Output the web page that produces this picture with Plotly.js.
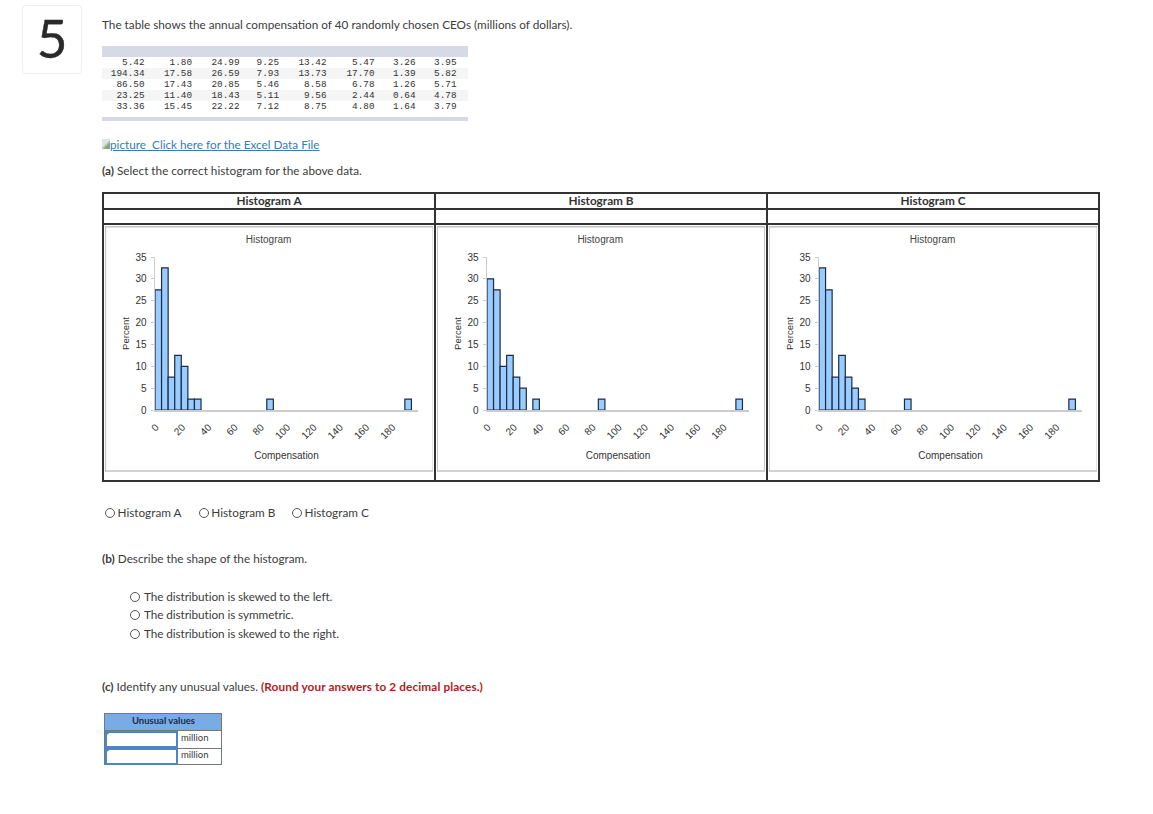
<!DOCTYPE html>
<html><head><meta charset="utf-8">
<script src="https://cdn.plot.ly/plotly-3.0.1.min.js"></script>
<style>
html,body{margin:0;padding:0;background:#fff;width:1153px;height:814px;overflow:hidden}
#page{position:relative;width:1153px;height:814px;font-family:Lato,sans-serif;font-size:11.75px;color:#3c3c3c}
.t{position:absolute;white-space:pre;line-height:16px;transform:translateY(-8px)}
.box{position:absolute;box-sizing:border-box}
.radio{position:absolute;box-sizing:border-box;width:10px;height:10px;border:1.3px solid #555;border-radius:50%;transform:translate(-5px,-5px);background:#fff}
.chart{position:absolute;background:#fff;box-sizing:border-box}
.m{position:absolute;font-family:"Liberation Mono",monospace;font-size:9.35px;line-height:11px;text-align:right;white-space:pre;color:#333;transform:translate(-100%,-5.5px)}
</style></head><body><div id="page"></div>
<script>
// Histogram data: bin lower edges (millions of dollars) and percent of CEOs
var binWidth = 5;
var binsA = [0,5,10,15,20,25,30,85,190];
var percentA = [27.5,32.5,7.5,12.5,10,2.5,2.5,2.5,2.5];
var binsB = [0,5,10,15,20,25,35,85,190];
var percentB = [30,27.5,10,12.5,7.5,5,2.5,2.5,2.5];
var binsC = [0,5,10,15,20,25,30,65,190];
var percentC = [32.5,27.5,7.5,12.5,7.5,5,2.5,2.5,2.5];
var xTicks = [0,20,40,60,80,100,120,140,160,180];
var yTicks = [0,5,10,15,20,25,30,35];
var histogramNames = ["Histogram A","Histogram B","Histogram C"];
var tableRows = [
 ["5.42","1.80","24.99","9.25","13.42","5.47","3.26","3.95"],
 ["194.34","17.58","26.59","7.93","13.73","17.70","1.39","5.82"],
 ["86.50","17.43","20.85","5.46","8.58","6.78","1.26","5.71"],
 ["23.25","11.40","18.43","5.11","9.56","2.44","0.64","4.78"],
 ["33.36","15.45","22.22","7.12","8.75","4.80","1.64","3.79"]
];

var page = document.getElementById('page');
function el(cls, css, html){var d=document.createElement('div');d.className=cls;d.style.cssText=css;if(html!==undefined)d.innerHTML=html;page.appendChild(d);return d;}
function text(x,y,html,css){return el('t','left:'+x+'px;top:'+y+'px;'+(css||''),html);}
function rect(x,y,w,h,css){return el('box','left:'+x+'px;top:'+y+'px;width:'+w+'px;height:'+h+'px;'+(css||''));}
function radio(x,y){return el('radio','left:'+x+'px;top:'+y+'px;');}

// question number
rect(22,5,60,69,'border:1px solid #eeeeee;border-radius:4px');
text(52,38,'5','font-size:53px;line-height:60px;transform:translate(-50%,-30px);color:#2a2a2a;-webkit-text-stroke:0.4px #2a2a2a');

text(102,25,'The table shows the annual compensation of 40 randomly chosen CEOs (millions of dollars).');

// data table
rect(102,46,366,11,'background:#d5dae6');
rect(102,68,366,11,'background:#f5f5f5');
rect(102,90,366,11,'background:#f5f5f5');
rect(102,117,366,4,'background:#d5dae6');
var colEnds=[144.5,192,239.5,279,326.5,374.5,415.5,456.5], rowYs=[62,73,84,95,106];
tableRows.forEach(function(r,i){r.forEach(function(v,j){el('m','left:'+colEnds[j]+'px;top:'+rowYs[i]+'px;',v);});});

// link
rect(102,139,8,10,'background:linear-gradient(135deg,#dfe4ea 0 45%,#7fa86a 70%,#8aa0b8);');
text(110,144.5,'<span style="text-decoration:underline">picture&nbsp;&nbsp;Click here for the Excel Data File</span>','color:#3a78c0');
text(102,171,'<b>(a)</b> Select the correct histogram for the above data.');

// outer table of three histograms
var frame='#333';
rect(102,192,998,290,'border:2px solid '+frame);
rect(102,208,998,2,'background:'+frame);
rect(102,223,998,2,'background:'+frame);
rect(434,192,2,290,'background:'+frame);
rect(766,192,2,290,'background:'+frame);
var nameX=[269,601,933];
histogramNames.forEach(function(n,i){text(nameX[i],200.5,'<b>'+n+'</b>','transform:translate(-50%,-8px);color:#333');});

// histograms
var panels=[
 {id:'a',left:105,width:328,origin:154.6,end:417.7,bins:binsA,pct:percentA},
 {id:'b',left:437,width:328,origin:486.9,end:749.3,bins:binsB,pct:percentB},
 {id:'c',left:769,width:328,origin:818.9,end:1081.7,bins:binsC,pct:percentC}
];
var top0=226,h0=247,yTop=256.5,yBottom=410.5;
var axisFont={family:'"Liberation Sans",Arial,sans-serif',size:10,color:'#333'};
panels.forEach(function(p){
  var d=el('chart','left:'+p.left+'px;top:'+top0+'px;width:'+p.width+'px;height:'+h0+'px;border:0');
  var mids=p.bins.map(function(b){return b+binWidth/2;});
  Plotly.newPlot(d,[{type:'bar',x:mids,y:p.pct,width:binWidth,
      marker:{color:'#99ccff',line:{color:'#1f2b45',width:1.2}},hoverinfo:'x+y'}],
  {width:p.width,height:h0,showlegend:false,paper_bgcolor:'rgba(0,0,0,0)',plot_bgcolor:'rgba(0,0,0,0)',
   margin:{l:p.origin-p.left,r:p.left+p.width-p.end,t:yTop-top0,b:top0+h0-yBottom,pad:0},
   font:axisFont,bargap:0,
   title:{text:'Histogram',font:{family:axisFont.family,size:10,color:'#444'},xref:'paper',x:0.432,xanchor:'center',yref:'container',y:1-(239.6-top0)/h0,yanchor:'middle'},
   xaxis:{range:[0,200],tickmode:'array',tickvals:xTicks,ticktext:xTicks.map(String),tickangle:-45,ticks:'',
     showgrid:false,zeroline:false,showline:true,linecolor:'#cccccc',linewidth:1.5,tickfont:axisFont,ticklabelshift:1,ticklabelstandoff:6,
     title:{text:'Compensation',font:axisFont,standoff:11}},
   yaxis:{range:[0,35],tickmode:'array',tickvals:yTicks,ticks:'outside',ticklen:3,tickcolor:'#cccccc',tickwidth:1,
     showgrid:false,zeroline:false,showline:true,linecolor:'#cccccc',linewidth:1.5,tickfont:axisFont,ticklabelstandoff:2,
     title:{text:'Percent',font:{family:axisFont.family,size:9.5,color:'#333'},standoff:4}},
   shapes:[{type:'rect',xref:'paper',yref:'paper',layer:'below',
     x0:-(p.origin-p.left)/(p.end-p.origin),x1:1+(p.left+p.width-p.end)/(p.end-p.origin),
     y0:-(top0+h0-yBottom-1)/(yBottom-yTop),y1:1+(yTop-top0)/(yBottom-yTop),
     line:{color:'#c4c4c4',width:1.5}}]
  },{displayModeBar:false,staticPlot:true});
});

// part (a) choices
var ax=[109.5,203.5,296.5], at=[117.5,211.3,304.5];
histogramNames.forEach(function(n,i){radio(ax[i],513);text(at[i],513,n);});

// part (b)
text(102,559,'<b>(b)</b> Describe the shape of the histogram.');
radio(135,597);text(144,597,'The distribution is skewed to the left.','letter-spacing:-0.08px');
radio(135,615);text(144,615,'The distribution is symmetric.','letter-spacing:-0.08px');
radio(135,634);text(144,634,'The distribution is skewed to the right.','letter-spacing:-0.08px');

// part (c)
text(102,687,'<b>(c)</b> Identify any unusual values. <b style="color:#b01c1c;letter-spacing:0.12px">(Round your answers to 2 decimal places.)</b>');
rect(104,713,118,52,'border:1px solid #777;background:#fff');
rect(104,713,118,18,'background:#78ace6;border:1px solid #777');
text(163.5,721,'<b>Unusual values</b>','transform:translate(-50%,-8px);font-family:&quot;Liberation Sans&quot;,Arial,sans-serif;font-size:9.5px;color:#1e2b45');
rect(105,731,73,17,'border:2px solid #4d86c4;background:#fff');
rect(105,748,73,17,'border:2px solid #4d86c4;background:#fff');
rect(105,731,4,5,'background:#4d86c4;clip-path:polygon(0 0,100% 50%,0 100%)');
rect(105,748,4,5,'background:#4d86c4;clip-path:polygon(0 0,100% 50%,0 100%)');
rect(177,748,45,1,'background:#777');
text(181,738,'million','font-size:9.5px;font-family:&quot;Liberation Sans&quot;,Arial,sans-serif');
text(181,755,'million','font-size:9.5px;font-family:&quot;Liberation Sans&quot;,Arial,sans-serif');
</script></body></html>
